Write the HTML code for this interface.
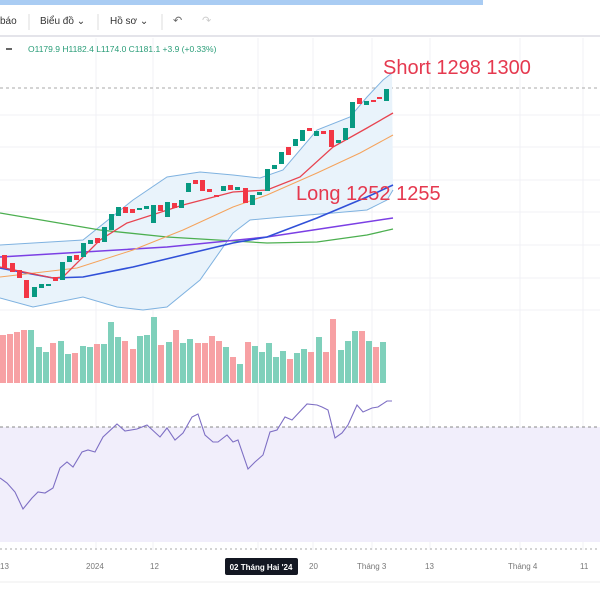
<!DOCTYPE html>
<html><head><meta charset="utf-8"><style>
body{margin:0;width:600px;height:600px;overflow:hidden;background:#fff;font-family:"Liberation Sans",sans-serif}
</style></head><body>
<svg width="600" height="600" viewBox="0 0 600 600" xmlns="http://www.w3.org/2000/svg" font-family="Liberation Sans, sans-serif">
<rect x="0" y="0" width="483" height="5" fill="#a9ccf3"/>
<text x="0" y="24" font-size="10" fill="#333">báo</text>
<line x1="29" y1="14" x2="29" y2="30" stroke="#ddd"/>
<text x="40" y="24" font-size="10" fill="#333">Biểu đồ ⌄</text>
<line x1="98" y1="14" x2="98" y2="30" stroke="#ddd"/>
<text x="110" y="24" font-size="10" fill="#333">Hồ sơ ⌄</text>
<line x1="162" y1="14" x2="162" y2="30" stroke="#ddd"/>
<text x="173" y="24" font-size="11" fill="#666">↶</text>
<text x="202" y="24" font-size="11" fill="#ccc">↷</text>
<line x1="0" y1="36" x2="600" y2="36" stroke="#e4e4ea" stroke-width="2"/>
<rect x="6" y="48" width="6" height="2" fill="#666"/>
<text x="28" y="52" font-size="8.5" fill="#2a9d78">O1179.9 H1182.4 L1174.0 C1181.1 +3.9 (+0.33%)</text>
<g stroke="#f0f1f5" stroke-width="1">
<line x1="96" y1="38" x2="96" y2="550"/><line x1="153" y1="38" x2="153" y2="550"/><line x1="258" y1="38" x2="258" y2="550"/><line x1="313" y1="38" x2="313" y2="550"/><line x1="372" y1="38" x2="372" y2="550"/><line x1="430" y1="38" x2="430" y2="550"/><line x1="520" y1="38" x2="520" y2="550"/><line x1="583" y1="38" x2="583" y2="550"/>
<line x1="0" y1="115" x2="600" y2="115"/><line x1="0" y1="147" x2="600" y2="147"/><line x1="0" y1="180" x2="600" y2="180"/><line x1="0" y1="212" x2="600" y2="212"/><line x1="0" y1="245" x2="600" y2="245"/><line x1="0" y1="278" x2="600" y2="278"/><line x1="0" y1="310" x2="600" y2="310"/>
</g>
<line x1="0" y1="88" x2="600" y2="88" stroke="#aaa" stroke-dasharray="3,3"/>
<path d="M0,245 L83,240 L133,200 L167,177 L200,172 L233,175 L260,178 L283,170 L317,130 L350,117 L367,97 L383,80 L392,73 L393,190 L387,200 L367,210 L333,213 L283,217 L250,220 L233,233 L200,280 L167,307 L143,310 L117,307 L83,297 L33,307 L0,298 Z" fill="#e9f3fb"/>
<polyline fill="none" stroke="#7fb2e0" stroke-width="1" points="0,245 83,240 133,200 167,177 200,172 233,175 260,178 283,170 317,130 350,117 367,97 383,80 392,73"/>
<polyline fill="none" stroke="#7fb2e0" stroke-width="1" points="0,298 33,307 83,297 117,307 143,310 167,307 200,280 233,233 250,220 283,217 333,213 367,210 387,200 393,190"/>
<polyline fill="none" stroke="#4caf50" stroke-width="1.3" points="0,213 100,230 167,237 267,243 317,242 367,235 393,229"/>
<polyline fill="none" stroke="#7b3fe4" stroke-width="1.5" points="0,257 67,253 167,247 267,237 333,227 393,218"/>
<polyline fill="none" stroke="#3050d8" stroke-width="1.6" points="0,268 53,278 83,277 133,267 183,255 233,243 267,237 317,218 367,197 393,185"/>
<polyline fill="none" stroke="#f5a35c" stroke-width="1" points="0,277 77,268 133,250 183,230 233,207 267,195 317,173 360,153 393,135"/>
<polyline fill="none" stroke="#e8434f" stroke-width="1.3" points="0,267 53,278 63,277 100,240 127,223 183,205 233,192 267,190 300,177 333,147 367,128 393,113"/>
<g id="c">
<rect x="2" y="255" width="5" height="13" fill="#f23645"/><rect x="10" y="263" width="5" height="9" fill="#f23645"/><rect x="17" y="270" width="5" height="8" fill="#f23645"/><rect x="24" y="280" width="5" height="18" fill="#f23645"/><rect x="32" y="287" width="5" height="10" fill="#089981"/><rect x="39" y="284" width="5" height="4" fill="#089981"/><rect x="46" y="284" width="5" height="2" fill="#089981"/><rect x="53" y="277" width="5" height="4" fill="#f23645"/><rect x="60" y="262" width="5" height="18" fill="#089981"/><rect x="67" y="256" width="5" height="6" fill="#089981"/><rect x="74" y="255" width="5" height="5" fill="#f23645"/><rect x="81" y="243" width="5" height="14" fill="#089981"/><rect x="88" y="240" width="5" height="4" fill="#089981"/><rect x="95" y="238" width="5" height="5" fill="#f23645"/><rect x="102" y="227" width="5" height="15" fill="#089981"/><rect x="109" y="214" width="5" height="16" fill="#089981"/><rect x="116" y="207" width="5" height="9" fill="#089981"/><rect x="123" y="207" width="5" height="6" fill="#f23645"/><rect x="130" y="209" width="5" height="4" fill="#f23645"/><rect x="137" y="208" width="5" height="2" fill="#089981"/><rect x="144" y="206" width="5" height="3" fill="#089981"/><rect x="151" y="205" width="5" height="18" fill="#089981"/><rect x="158" y="205" width="5" height="6" fill="#f23645"/><rect x="165" y="202" width="5" height="15" fill="#089981"/><rect x="172" y="203" width="5" height="5" fill="#f23645"/><rect x="179" y="200" width="5" height="8" fill="#089981"/><rect x="186" y="183" width="5" height="9" fill="#089981"/><rect x="193" y="180" width="5" height="4" fill="#f23645"/><rect x="200" y="180" width="5" height="11" fill="#f23645"/><rect x="207" y="189" width="5" height="3" fill="#f23645"/><rect x="214" y="195" width="5" height="2" fill="#f23645"/><rect x="221" y="186" width="5" height="5" fill="#089981"/><rect x="228" y="185" width="5" height="5" fill="#f23645"/><rect x="235" y="187" width="5" height="3" fill="#089981"/><rect x="243" y="188" width="5" height="15" fill="#f23645"/><rect x="250" y="195" width="5" height="10" fill="#089981"/><rect x="257" y="192" width="5" height="3" fill="#089981"/><rect x="265" y="169" width="5" height="22" fill="#089981"/><rect x="272" y="165" width="5" height="4" fill="#089981"/><rect x="279" y="152" width="5" height="12" fill="#089981"/><rect x="286" y="147" width="5" height="8" fill="#f23645"/><rect x="293" y="139" width="5" height="7" fill="#089981"/><rect x="300" y="130" width="5" height="11" fill="#089981"/><rect x="307" y="128" width="5" height="3" fill="#f23645"/><rect x="314" y="131" width="5" height="5" fill="#089981"/><rect x="321" y="131" width="5" height="3" fill="#f23645"/><rect x="329" y="130" width="5" height="17" fill="#f23645"/><rect x="336" y="140" width="5" height="3" fill="#089981"/><rect x="343" y="128" width="5" height="12" fill="#089981"/><rect x="350" y="102" width="5" height="26" fill="#089981"/><rect x="357" y="98" width="5" height="6" fill="#f23645"/><rect x="364" y="101" width="5" height="4" fill="#089981"/><rect x="371" y="100" width="5" height="2" fill="#f23645"/><rect x="377" y="97" width="5" height="2" fill="#f23645"/><rect x="384" y="89" width="5" height="12" fill="#089981"/>
</g>
<text x="383" y="74" font-size="20" fill="#e5394f">Short 1298 1300</text>
<text x="296" y="200" font-size="20" fill="#e5394f">Long 1252 1255</text>
<g>
<rect x="0" y="335" width="6" height="48" fill="#f7a1a4"/><rect x="7" y="334" width="6" height="49" fill="#f7a1a4"/><rect x="14" y="332" width="6" height="51" fill="#f7a1a4"/><rect x="21" y="330" width="6" height="53" fill="#f7a1a4"/><rect x="28" y="330" width="6" height="53" fill="#7fd0bb"/><rect x="36" y="347" width="6" height="36" fill="#7fd0bb"/><rect x="43" y="352" width="6" height="31" fill="#7fd0bb"/><rect x="50" y="343" width="6" height="40" fill="#f7a1a4"/><rect x="58" y="341" width="6" height="42" fill="#7fd0bb"/><rect x="65" y="354" width="6" height="29" fill="#7fd0bb"/><rect x="72" y="353" width="6" height="30" fill="#f7a1a4"/><rect x="80" y="346" width="6" height="37" fill="#7fd0bb"/><rect x="87" y="347" width="6" height="36" fill="#7fd0bb"/><rect x="94" y="344" width="6" height="39" fill="#f7a1a4"/><rect x="101" y="344" width="6" height="39" fill="#7fd0bb"/><rect x="108" y="322" width="6" height="61" fill="#7fd0bb"/><rect x="115" y="337" width="6" height="46" fill="#7fd0bb"/><rect x="122" y="341" width="6" height="42" fill="#f7a1a4"/><rect x="130" y="349" width="6" height="34" fill="#f7a1a4"/><rect x="137" y="336" width="6" height="47" fill="#7fd0bb"/><rect x="144" y="335" width="6" height="48" fill="#7fd0bb"/><rect x="151" y="317" width="6" height="66" fill="#7fd0bb"/><rect x="158" y="345" width="6" height="38" fill="#f7a1a4"/><rect x="166" y="342" width="6" height="41" fill="#7fd0bb"/><rect x="173" y="330" width="6" height="53" fill="#f7a1a4"/><rect x="180" y="343" width="6" height="40" fill="#7fd0bb"/><rect x="187" y="339" width="6" height="44" fill="#7fd0bb"/><rect x="195" y="343" width="6" height="40" fill="#f7a1a4"/><rect x="202" y="343" width="6" height="40" fill="#f7a1a4"/><rect x="209" y="336" width="6" height="47" fill="#f7a1a4"/><rect x="216" y="341" width="6" height="42" fill="#f7a1a4"/><rect x="223" y="347" width="6" height="36" fill="#7fd0bb"/><rect x="230" y="357" width="6" height="26" fill="#f7a1a4"/><rect x="237" y="364" width="6" height="19" fill="#7fd0bb"/><rect x="245" y="342" width="6" height="41" fill="#f7a1a4"/><rect x="252" y="346" width="6" height="37" fill="#7fd0bb"/><rect x="259" y="352" width="6" height="31" fill="#7fd0bb"/><rect x="266" y="343" width="6" height="40" fill="#7fd0bb"/><rect x="273" y="357" width="6" height="26" fill="#7fd0bb"/><rect x="280" y="351" width="6" height="32" fill="#7fd0bb"/><rect x="287" y="359" width="6" height="24" fill="#f7a1a4"/><rect x="294" y="353" width="6" height="30" fill="#7fd0bb"/><rect x="301" y="349" width="6" height="34" fill="#7fd0bb"/><rect x="308" y="352" width="6" height="31" fill="#f7a1a4"/><rect x="316" y="337" width="6" height="46" fill="#7fd0bb"/><rect x="323" y="352" width="6" height="31" fill="#f7a1a4"/><rect x="330" y="319" width="6" height="64" fill="#f7a1a4"/><rect x="338" y="350" width="6" height="33" fill="#7fd0bb"/><rect x="345" y="341" width="6" height="42" fill="#7fd0bb"/><rect x="352" y="331" width="6" height="52" fill="#7fd0bb"/><rect x="359" y="331" width="6" height="52" fill="#f7a1a4"/><rect x="366" y="341" width="6" height="42" fill="#7fd0bb"/><rect x="373" y="347" width="6" height="36" fill="#f7a1a4"/><rect x="380" y="342" width="6" height="41" fill="#7fd0bb"/>
</g>
<rect x="0" y="427" width="600" height="115" fill="#f1eefb"/>
<line x1="0" y1="427" x2="600" y2="427" stroke="#888" stroke-dasharray="3,3"/>
<polyline fill="none" stroke="#7e6fc4" stroke-width="1.1" points="0,478 7,483 15,492 23,509 32,498 38,492 45,493 53,488 60,468 67,462 73,467 82,452 88,450 95,452 103,437 117,424 125,431 137,429 147,425 160,437 167,428 175,440 183,433 192,417 198,414 205,435 213,442 218,442 227,435 233,442 238,440 248,469 255,462 263,455 270,432 277,430 285,417 292,420 307,404 317,405 322,407 328,410 335,438 342,433 348,425 357,405 363,412 372,408 378,407 387,401 392,401"/>
<line x1="0" y1="549" x2="600" y2="549" stroke="#aaa" stroke-dasharray="2,3"/>
<g font-size="8" fill="#777">
<text x="0" y="569">13</text><text x="86" y="569">2024</text><text x="150" y="569">12</text><text x="309" y="569">20</text><text x="357" y="569">Tháng 3</text><text x="425" y="569">13</text><text x="508" y="569">Tháng 4</text><text x="580" y="569">11</text>
</g>
<rect x="225" y="558" width="73" height="17" rx="2" fill="#131722"/>
<text x="261" y="570" font-size="8" fill="#fff" text-anchor="middle" font-weight="bold">02 Tháng Hai '24</text>
<line x1="0" y1="582" x2="600" y2="582" stroke="#eee"/>
</svg>
</body></html>
